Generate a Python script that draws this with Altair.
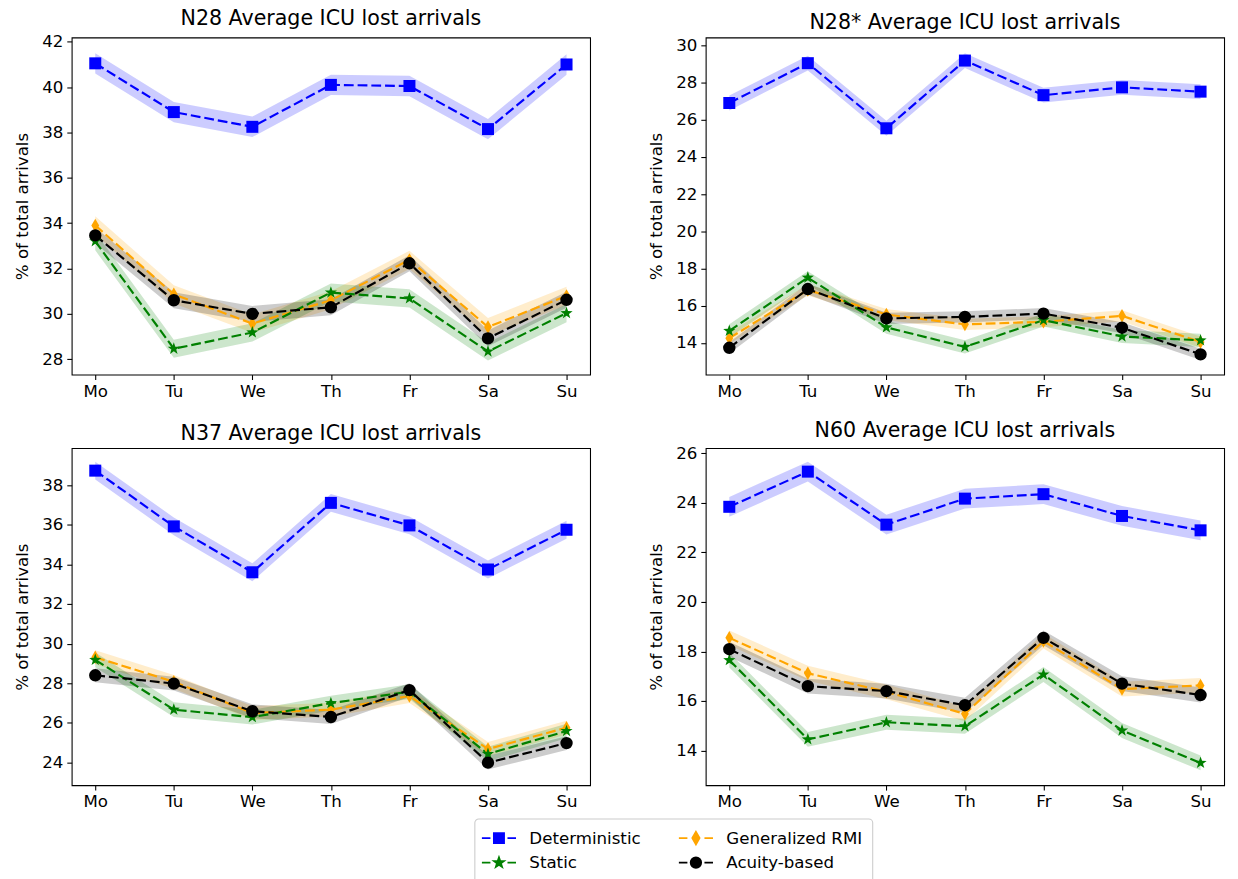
import altair as alt
import pandas as pd

days = ["Mo", "Tu", "We", "Th", "Fr", "Sa", "Su"]
series_names = ["Deterministic", "Generalized RMI", "Static", "Acuity-based"]
series_colors = ["blue", "orange", "green", "black"]

titles = ["N28 Average ICU lost arrivals", "N28* Average ICU lost arrivals",
          "N37 Average ICU lost arrivals", "N60 Average ICU lost arrivals"]

# N28
n28_det = [41.05, 38.9, 38.25, 40.1, 40.05, 38.15, 41.0]
n28_rmi = [33.9, 30.86, 29.57, 30.6, 32.38, 29.42, 30.79]
n28_static = [33.2, 28.46, 29.18, 30.94, 30.68, 28.34, 30.03]
n28_acuity = [33.46, 30.6, 30.0, 30.29, 32.23, 28.92, 30.62]
n28_hw = [0.45, 0.4, 0.4, 0.35]

# N28*
n28s_det = [26.9, 29.04, 25.54, 29.18, 27.32, 27.74, 27.51]
n28s_rmi = [14.26, 16.85, 15.53, 15.0, 15.14, 15.46, 14.05]
n28s_static = [14.65, 17.51, 14.84, 13.79, 15.23, 14.35, 14.14]
n28s_acuity = [13.74, 16.9, 15.32, 15.4, 15.58, 14.82, 13.39]
n28s_hw = [0.4, 0.3, 0.35, 0.3]

# N37
n37_det = [38.75, 35.93, 33.61, 37.12, 35.98, 33.75, 35.76]
n37_rmi = [29.31, 28.07, 26.49, 26.66, 27.35, 24.67, 25.75]
n37_static = [29.18, 26.66, 26.28, 26.99, 27.57, 24.42, 25.58]
n37_acuity = [28.4, 27.98, 26.58, 26.29, 27.65, 23.98, 24.97]
n37_hw = [0.45, 0.35, 0.37, 0.35]

# N60
n60_det = [23.84, 25.26, 23.12, 24.17, 24.35, 23.47, 22.89]
n60_rmi = [18.55, 17.12, 16.37, 15.48, 18.42, 16.48, 16.63]
n60_static = [17.65, 14.45, 15.14, 14.98, 17.07, 14.81, 13.5]
n60_acuity = [18.09, 16.6, 16.4, 15.83, 18.55, 16.7, 16.24]
n60_hw = [0.4, 0.3, 0.3, 0.3]

panels_values = [
    [n28_det, n28_rmi, n28_static, n28_acuity],
    [n28s_det, n28s_rmi, n28s_static, n28s_acuity],
    [n37_det, n37_rmi, n37_static, n37_acuity],
    [n60_det, n60_rmi, n60_static, n60_acuity],
]
panels_hw = [n28_hw, n28s_hw, n37_hw, n60_hw]

y_domains = [[27.32, 42.19], [12.3, 30.42], [22.84, 39.89], [12.6, 26.21]]
y_ticks = [list(range(28, 43, 2)), list(range(14, 31, 2)),
           list(range(24, 39, 2)), list(range(14, 27, 2))]

# legend layout (column / row of each series in the legend box)
legend_col = [0, 1, 0, 1]
legend_row = [0, 0, 1, 1]

FONT = "DejaVu Sans"
PW, PH = 529, 344

STAR = ("M0,-1L0.235,-0.324L0.951,-0.309L0.38,0.124L0.588,0.809L0,0.4"
        "L-0.588,0.809L-0.38,0.124L-0.951,-0.309L-0.235,-0.324Z")
plot_shapes = ["square", "M0,-1L0.58,0L0,1L-0.58,0Z", STAR, "circle"]
plot_sizes = [150, 190, 170, 160]

# legend symbols: dashed line + marker
dash = "M-2.9,0H-1.45M1.45,0H2.9"
legend_paths = [
    dash + "M-0.85,-0.85H0.85V0.85H-0.85Z",
    dash + "M0,-1.05L0.6,0L0,1.05L-0.6,0Z",
    dash + "M0,-0.85L0.2,-0.275L0.81,-0.263L0.323,0.105L0.5,0.688L0,0.34"
           "L-0.5,0.688L-0.323,0.105L-0.81,-0.263L-0.2,-0.275Z",
    dash + "M0.88,0A0.88,0.88 0 1,1 -0.88,0A0.88,0.88 0 1,1 0.88,0Z",
]

color_scale = alt.Scale(domain=series_names, range=series_colors)


def make_panel(i):
    rows = []
    for s, name in enumerate(series_names):
        vals = panels_values[i][s]
        hw = panels_hw[i][s]
        for d, v in zip(days, vals):
            rows.append({"day": d, "series": name, "value": v,
                         "lo": v - hw, "hi": v + hw})
    df = pd.DataFrame(rows)
    base = alt.Chart(df)
    x = alt.X("day:N", sort=days,
              scale=alt.Scale(type="point", padding=0.3),
              axis=alt.Axis(title=None, labelAngle=0))
    yscale = alt.Scale(domain=y_domains[i], nice=False, zero=False)
    yaxis = alt.Axis(title="% of total arrivals", values=y_ticks[i])

    band = base.mark_area(opacity=0.2).encode(
        x=x,
        y=alt.Y("lo:Q", scale=yscale, axis=yaxis),
        y2="hi:Q",
        color=alt.Color("series:N", scale=color_scale, legend=None),
    )
    line = base.mark_line(strokeDash=[10, 4], strokeWidth=2.2).encode(
        x=x,
        y=alt.Y("value:Q", scale=yscale, axis=yaxis),
        color=alt.Color("series:N", scale=color_scale, legend=None),
    )
    layers = [band, line]
    for s, name in enumerate(series_names):
        pts = base.transform_filter(alt.datum.series == name).mark_point(
            filled=True, opacity=1, shape=plot_shapes[s], size=plot_sizes[s]
        ).encode(
            x=x,
            y=alt.Y("value:Q", scale=yscale, axis=yaxis),
            color=alt.Color("series:N", scale=color_scale, legend=None),
        )
        layers.append(pts)
    return alt.layer(*layers).properties(
        width=PW, height=PH, title=titles[i]
    )


def make_legend():
    ldf = pd.DataFrame({"series": series_names, "col": legend_col,
                        "row": legend_row})
    base = alt.Chart(ldf)
    lx = alt.X("col:Q", scale=alt.Scale(domain=[0, 1], range=[25, 226]),
               axis=None)
    ly = alt.Y("row:Q", scale=alt.Scale(domain=[0, 1], range=[20, 45]),
               axis=None)
    sym = base.mark_point(filled=True, opacity=1, size=144,
                          strokeWidth=2).encode(
        x=lx, y=ly,
        fill=alt.Fill("series:N", scale=color_scale, legend=None),
        stroke=alt.Stroke("series:N", scale=color_scale, legend=None),
        shape=alt.Shape("series:N",
                        scale=alt.Scale(domain=series_names, range=legend_paths),
                        legend=None),
    )
    txt = base.mark_text(align="left", baseline="middle", dx=31, dy=1,
                         font=FONT, fontSize=17, color="black").encode(
        x=lx, y=ly, text="series:N",
    )
    box = alt.layer(sym, txt).properties(
        width=406, height=66,
        view=alt.ViewBackground(stroke="#cccccc", strokeWidth=1.1,
                                cornerRadius=4, fill="white"),
    )
    spacer = base.transform_filter("false").mark_point().encode(
        x=alt.X("col:Q", axis=None), y=alt.Y("row:Q", axis=None),
    ).properties(width=1, height=66,
                 view=alt.ViewBackground(strokeOpacity=0))
    return alt.hconcat(spacer, box, spacing=409)


top = alt.hconcat(make_panel(0), make_panel(1), spacing=57)
bottom = alt.hconcat(make_panel(2), make_panel(3), spacing=57)
grid = alt.vconcat(top, bottom, spacing=19)

chart = alt.vconcat(grid, make_legend(), spacing=7).properties(
    padding={"left": 5, "top": -10, "right": 5, "bottom": 5}
).configure(
    font=FONT,
).configure_view(
    stroke="black", strokeWidth=1.1,
).configure_axis(
    grid=False, domain=False,
    labelFont=FONT, labelFontSize=17, labelColor="black",
    tickColor="black", tickSize=5, tickWidth=1.1, labelPadding=4,
    titleFont=FONT, titleFontSize=17, titleFontWeight="normal",
    titleColor="black", titlePadding=10,
).configure_title(
    font=FONT, fontSize=21, fontWeight="normal", color="black", offset=0,
)

chart.save("out.html", embed_options={"renderer": "svg", "actions": False})
